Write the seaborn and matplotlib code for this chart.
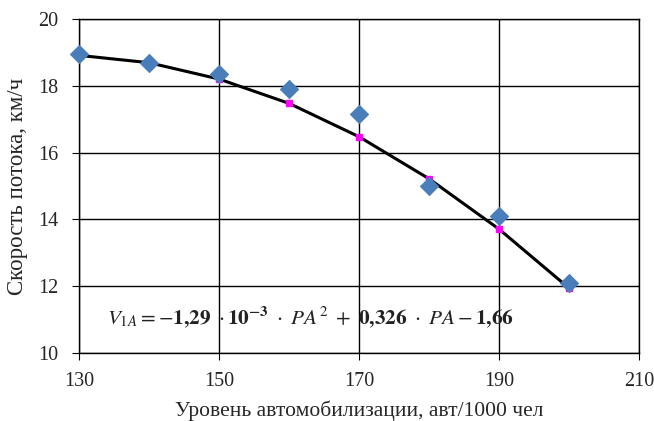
import matplotlib
matplotlib.use("Agg")
import matplotlib.pyplot as plt
import seaborn as sns
import pandas as pd

# Наблюдаемые и расчётные значения скорости потока
pa = [130, 140, 150, 160, 170, 180, 190, 200]
v_obs = [18.95, 18.70, 18.35, 17.90, 17.15, 15.00, 14.10, 12.10]
v_fit = [18.92, 18.70, 18.21, 17.48, 16.48, 15.22, 13.71, 11.94]

df = pd.DataFrame({"PA": pa, "obs": v_obs, "fit": v_fit})

sns.set_style("white")
plt.rcParams["font.family"] = ["Liberation Serif", "DejaVu Serif"]
plt.rcParams["mathtext.fontset"] = "stix"

fig = plt.figure(figsize=(6.54, 4.21), dpi=100)
ax = fig.add_axes([0.121, 0.162, 0.856, 0.792])

sns.lineplot(data=df, x="PA", y="fit", ax=ax, color="black", linewidth=2.2, zorder=3)
ax.plot(df["PA"], df["fit"], linestyle="none", marker="s", markersize=5,
        color="#FF00FF", zorder=4)
sns.scatterplot(data=df, x="PA", y="obs", ax=ax, marker="D", s=85,
                color="#4A7EBB", edgecolor="#4A7EBB", zorder=5, clip_on=False)

ax.set_xlim(130, 210)
ax.set_ylim(10, 20)
ax.set_xticks([130, 150, 170, 190, 210])
ax.set_yticks([10, 12, 14, 16, 18, 20])
ax.grid(True, color="black", linewidth=1)
for s in ax.spines.values():
    s.set_color("black")
    s.set_linewidth(1)
ax.tick_params(axis="both", labelsize=14.5, length=5, direction="out", color="black",
               left=True, bottom=True)
ax.tick_params(axis="x", pad=9)
ax.tick_params(axis="y", pad=10)
ax.set_xlabel("Уровень автомобилизации, авт/1000 чел", fontsize=15.5, labelpad=7)
ax.set_ylabel("Скорость потока, км/ч", fontsize=16.5, labelpad=7)

ax.text(134, 10.85,
        r"$V_{1A} = -\mathbf{1{,}29}\ \cdot\mathbf{10^{-3}}\ \cdot\ PA^{2}\ +\ \mathbf{0{,}326}\ \cdot\ PA - \mathbf{1{,}66}$",
        fontsize=15.3, color="#222222", zorder=6)

fig.savefig("out.png", dpi=100)
